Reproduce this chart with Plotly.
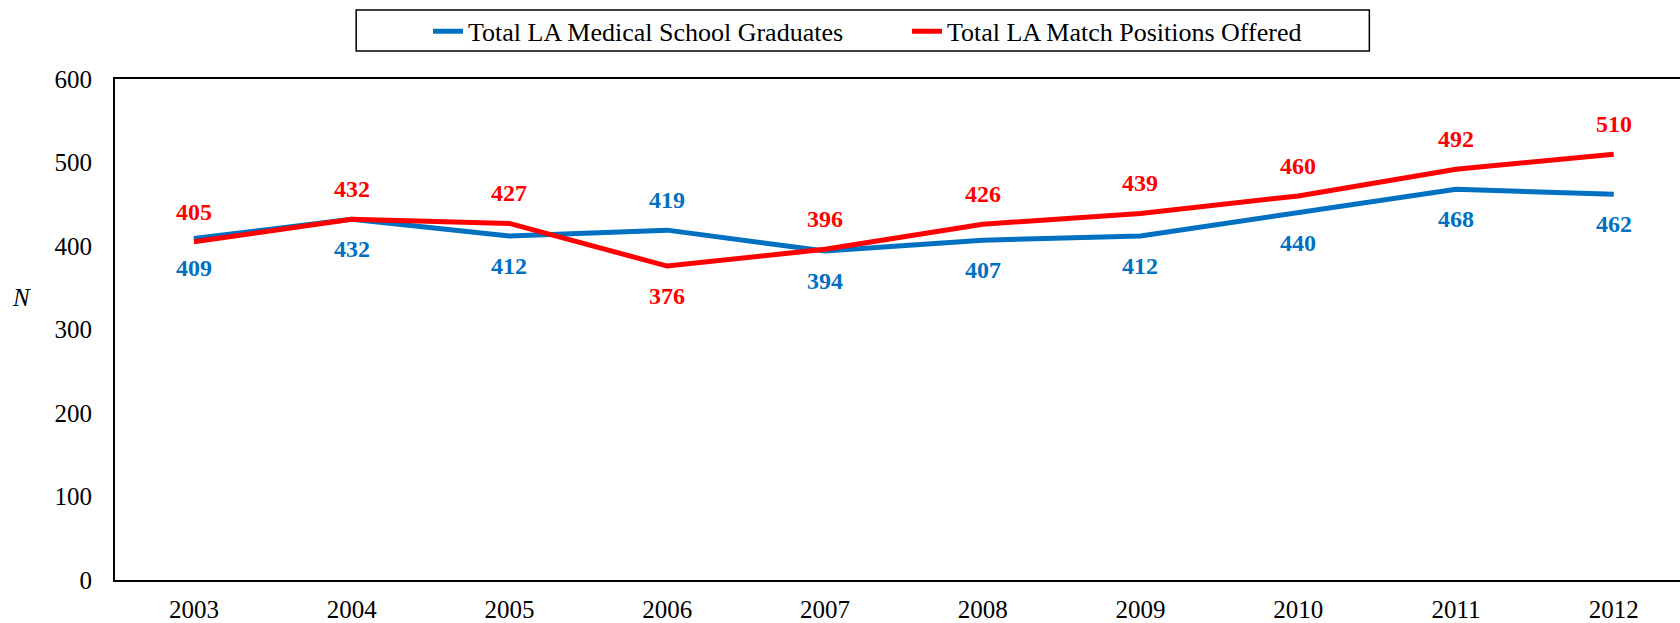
import plotly.graph_objects as go

years = ["2003", "2004", "2005", "2006", "2007", "2008", "2009", "2010", "2011", "2012"]
graduates = [409, 432, 412, 419, 394, 407, 412, 440, 468, 462]
positions = [405, 432, 427, 376, 396, 426, 439, 460, 492, 510]

# label placement style: +1 above the point, -1 below
grad_label_side = [-1, -1, -1, 1, -1, -1, -1, -1, -1, -1]
pos_label_side = [1, 1, 1, -1, 1, 1, 1, 1, 1, 1]

BLUE = "#0070C0"
RED = "#FF0000"
FONT = "Liberation Serif"

fig = go.Figure()
fig.add_trace(go.Scatter(x=years, y=graduates, mode="lines", name="Total LA Medical School Graduates",
                         line=dict(color=BLUE, width=5)))
fig.add_trace(go.Scatter(x=years, y=positions, mode="lines", name="Total LA Match Positions Offered",
                         line=dict(color=RED, width=5)))

annotations = []
for i in range(len(years)):
    annotations.append(dict(x=i, y=positions[i], xref="x", yref="y", text=f"<b>{positions[i]}</b>",
                            showarrow=False, yshift=30 * pos_label_side[i],
                            font=dict(family=FONT, size=24, color=RED)))
    annotations.append(dict(x=i, y=graduates[i], xref="x", yref="y", text=f"<b>{graduates[i]}</b>",
                            showarrow=False, yshift=30 * grad_label_side[i],
                            font=dict(family=FONT, size=24, color=BLUE)))
annotations.append(dict(xref="paper", yref="paper", x=-0.060, y=0.564, text="<i>N</i>", showarrow=False,
                        xanchor="center", yanchor="middle",
                        font=dict(family=FONT, size=25, color="black")))

fig.update_layout(
    width=1680, height=623,
    margin=dict(l=115, r=0, t=79, b=43),
    paper_bgcolor="white", plot_bgcolor="white",
    font=dict(family=FONT, size=25, color="black"),
    showlegend=True,
    legend=dict(orientation="h", x=0.200, xanchor="left", y=1.142, yanchor="top",
                borderwidth=0, font=dict(family=FONT, size=26),
                entrywidth=434, bgcolor="rgba(0,0,0,0)"),
    shapes=[dict(type="rect", xref="paper", yref="paper", x0=0.1541, x1=0.8015, y0=1.0559, y1=1.1377,
                 line=dict(color="black", width=1.5), fillcolor="rgba(0,0,0,0)")],
    annotations=annotations,
    xaxis=dict(type="category", range=[-0.5, 9.42], showline=True, linecolor="black", linewidth=2,
               mirror=True, ticks="outside", tickcolor="white", ticklen=6, showgrid=False,
               automargin=False, tickfont=dict(family=FONT, size=25)),
    yaxis=dict(range=[0, 600], dtick=100, showline=True, linecolor="black", linewidth=2,
               ticks="outside", tickcolor="white", ticklen=16, showgrid=False, zeroline=False,
               automargin=False, tickfont=dict(family=FONT, size=25)),
)

fig.write_html("out.html", config={"displayModeBar": False},
               post_script="document.body.style.margin='0';")
